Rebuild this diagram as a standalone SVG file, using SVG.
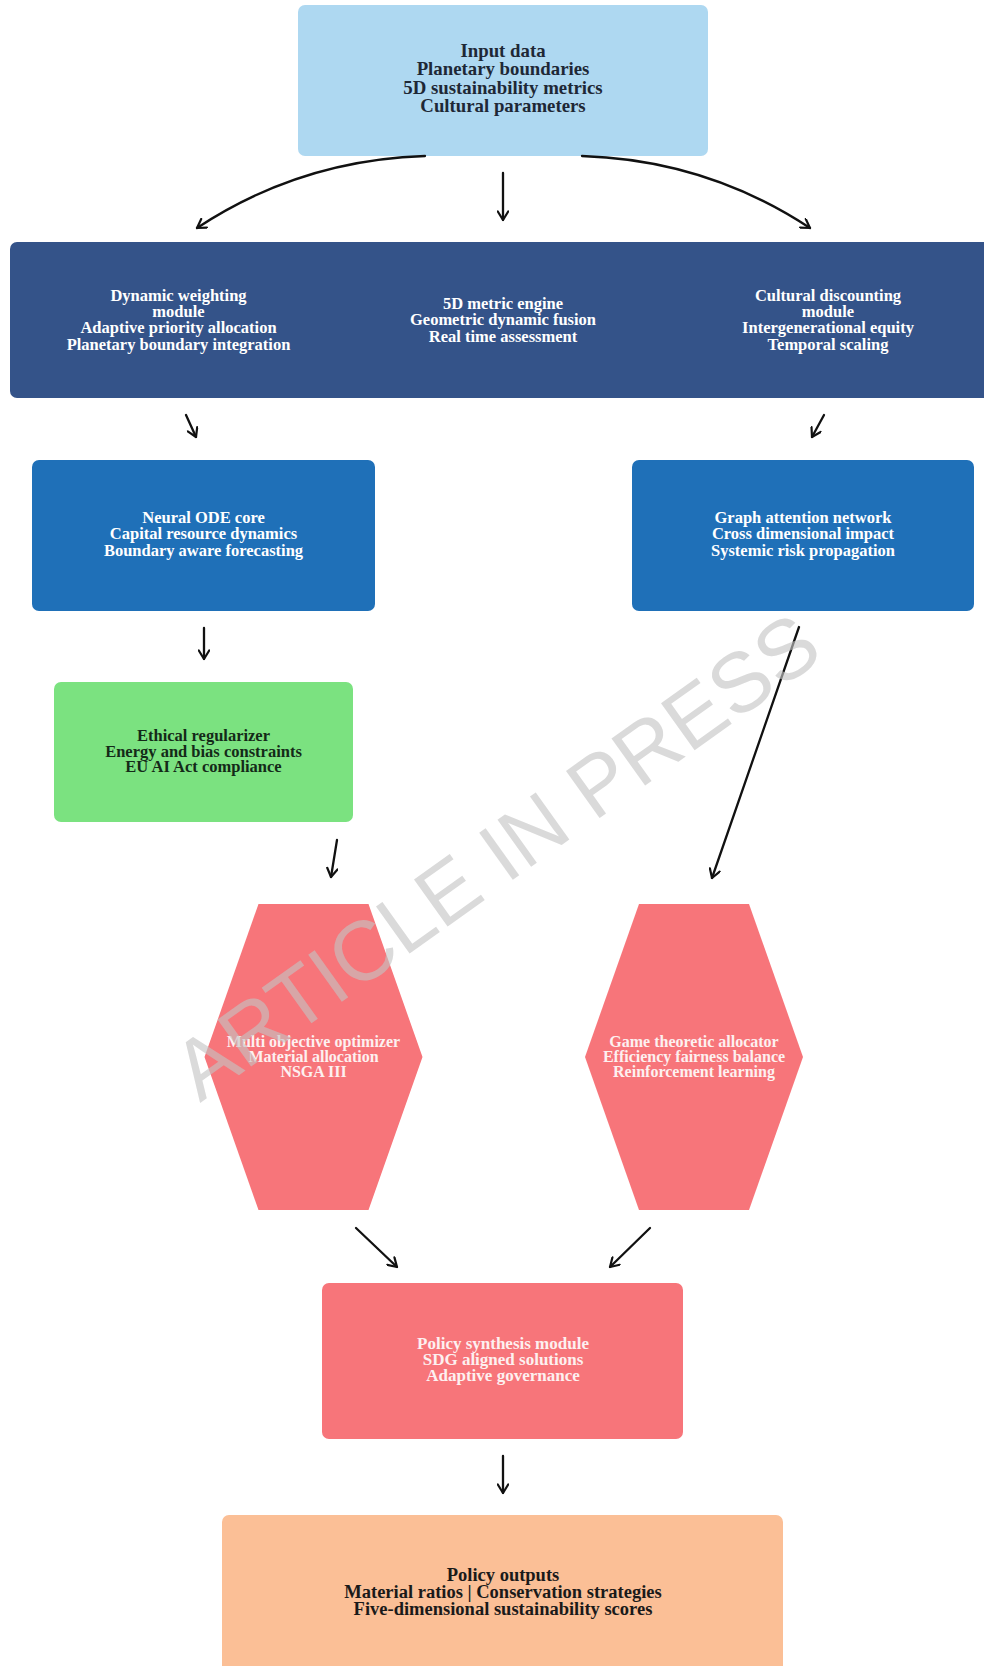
<svg xmlns="http://www.w3.org/2000/svg" width="984" height="1666" viewBox="0 0 984 1666">
<defs>
<style>
.t{font-family:"Liberation Serif","Times New Roman",serif;font-weight:bold;text-anchor:middle}
.w{fill:#ffffff}
.pk{fill:#fdf0f0}
.dk{fill:#1e2836}
.gk{fill:#142a18}
.ok{fill:#1a1a1a}
.c{fill:none;stroke:#111;stroke-width:2.3;stroke-linecap:round}
</style>
<marker id="ah" viewBox="0 0 12 12" refX="11" refY="6" markerWidth="12" markerHeight="12" markerUnits="userSpaceOnUse" orient="auto">
<path d="M2.5,0.8 L11,6 L2.5,11.2" fill="none" stroke="#111" stroke-width="2.2" stroke-linecap="round" stroke-linejoin="round"/>
</marker>
</defs>
<rect width="984" height="1666" fill="#ffffff"/>

<g id="input">
<rect x="298" y="5" width="410" height="151" rx="7" fill="#aed8f1"/>
<text class="t dk" font-size="18.8" x="503" y="56.7">Input data</text>
<text class="t dk" font-size="18.8" x="503" y="75.2">Planetary boundaries</text>
<text class="t dk" font-size="18.8" x="503" y="93.7">5D sustainability metrics</text>
<text class="t dk" font-size="18.8" x="503" y="112.2">Cultural parameters</text>
</g>

<g id="band">
<rect x="10" y="242" width="1000" height="156" rx="7" fill="#345389"/>
<g id="dynamic-weighting">
<text class="t w" font-size="16.5" x="178.5" y="300.5">Dynamic weighting</text>
<text class="t w" font-size="16.5" x="178.5" y="316.9">module</text>
<text class="t w" font-size="16.5" x="178.5" y="333.3">Adaptive priority allocation</text>
<text class="t w" font-size="16.5" x="178.5" y="349.7">Planetary boundary integration</text>
</g>
<g id="metric-engine">
<text class="t w" font-size="16.5" x="503" y="308.5">5D metric engine</text>
<text class="t w" font-size="16.5" x="503" y="325">Geometric dynamic fusion</text>
<text class="t w" font-size="16.5" x="503" y="341.5">Real time assessment</text>
</g>
<g id="cultural-discounting">
<text class="t w" font-size="16.5" x="828" y="300.5">Cultural discounting</text>
<text class="t w" font-size="16.5" x="828" y="316.9">module</text>
<text class="t w" font-size="16.5" x="828" y="333.3">Intergenerational equity</text>
<text class="t w" font-size="16.5" x="828" y="349.7">Temporal scaling</text>
</g>
</g>

<g id="neural-ode">
<rect x="32" y="460" width="343" height="151" rx="7" fill="#1f70b8"/>
<text class="t w" font-size="16.5" x="203.5" y="522.7">Neural ODE core</text>
<text class="t w" font-size="16.5" x="203.5" y="539.1">Capital resource dynamics</text>
<text class="t w" font-size="16.5" x="203.5" y="555.5">Boundary aware forecasting</text>
</g>

<g id="graph-attention">
<rect x="632" y="460" width="342" height="151" rx="7" fill="#1f70b8"/>
<text class="t w" font-size="16.5" x="803" y="522.7">Graph attention network</text>
<text class="t w" font-size="16.5" x="803" y="539.1">Cross dimensional impact</text>
<text class="t w" font-size="16.5" x="803" y="555.5">Systemic risk propagation</text>
</g>

<g id="ethical">
<rect x="54" y="682" width="299" height="140" rx="7" fill="#7be280"/>
<text class="t gk" font-size="16.5" x="203.5" y="741">Ethical regularizer</text>
<text class="t gk" font-size="16.5" x="203.5" y="756.7">Energy and bias constraints</text>
<text class="t gk" font-size="16.5" x="203.5" y="772.4">EU AI Act compliance</text>
</g>

<g id="multi-objective">
<polygon points="258.5,904 368.5,904 422.5,1057 368.5,1210 258.5,1210 204.5,1057" fill="#f7757a"/>
<text class="t pk" font-size="16" x="313.5" y="1046.7">Multi objective optimizer</text>
<text class="t pk" font-size="16" x="313.5" y="1061.8">Material allocation</text>
<text class="t pk" font-size="16" x="313.5" y="1076.9">NSGA III</text>
</g>

<g id="game-theoretic">
<polygon points="639,904 749,904 803,1057 749,1210 639,1210 585,1057" fill="#f7757a"/>
<text class="t pk" font-size="16" x="694" y="1046.7">Game theoretic allocator</text>
<text class="t pk" font-size="16" x="694" y="1061.8">Efficiency fairness balance</text>
<text class="t pk" font-size="16" x="694" y="1076.9">Reinforcement learning</text>
</g>

<g id="policy-synthesis">
<rect x="322" y="1283" width="361" height="156" rx="7" fill="#f7757a"/>
<text class="t pk" font-size="17" x="503" y="1349">Policy synthesis module</text>
<text class="t pk" font-size="17" x="503" y="1365">SDG aligned solutions</text>
<text class="t pk" font-size="17" x="503" y="1381">Adaptive governance</text>
</g>

<g id="policy-outputs">
<rect x="222" y="1515" width="561" height="200" rx="7" fill="#fbbf96"/>
<text class="t ok" font-size="18.5" x="503" y="1580.7">Policy outputs</text>
<text class="t ok" font-size="18.5" x="503" y="1598">Material ratios | Conservation strategies</text>
<text class="t ok" font-size="18.5" x="503" y="1615.3">Five-dimensional sustainability scores</text>
</g>

<g id="connectors">
<path class="c" marker-end="url(#ah)" d="M425,156 Q300,160 197,228"/>
<path class="c" marker-end="url(#ah)" d="M582,156 Q707,160 810,228"/>
<path class="c" marker-end="url(#ah)" d="M503,173 L503,220"/>
<path class="c" marker-end="url(#ah)" d="M186,415 L196,437"/>
<path class="c" marker-end="url(#ah)" d="M824,415 L812,437"/>
<path class="c" marker-end="url(#ah)" d="M204,628 L204,659"/>
<path class="c" marker-end="url(#ah)" d="M337,840 L331,877"/>
<path class="c" marker-end="url(#ah)" d="M799,627 L712,878"/>
<path class="c" marker-end="url(#ah)" d="M356,1228 L397,1267"/>
<path class="c" marker-end="url(#ah)" d="M650,1228 L610,1267"/>
<path class="c" marker-end="url(#ah)" d="M503,1456 L503,1493"/>
</g>

<text x="200" y="1103" transform="rotate(-35.5 200 1103)" font-family="Liberation Sans, Arial, sans-serif" font-size="84" fill="#c4c4c4" opacity="0.62">ARTICLE IN PRESS</text>
</svg>
